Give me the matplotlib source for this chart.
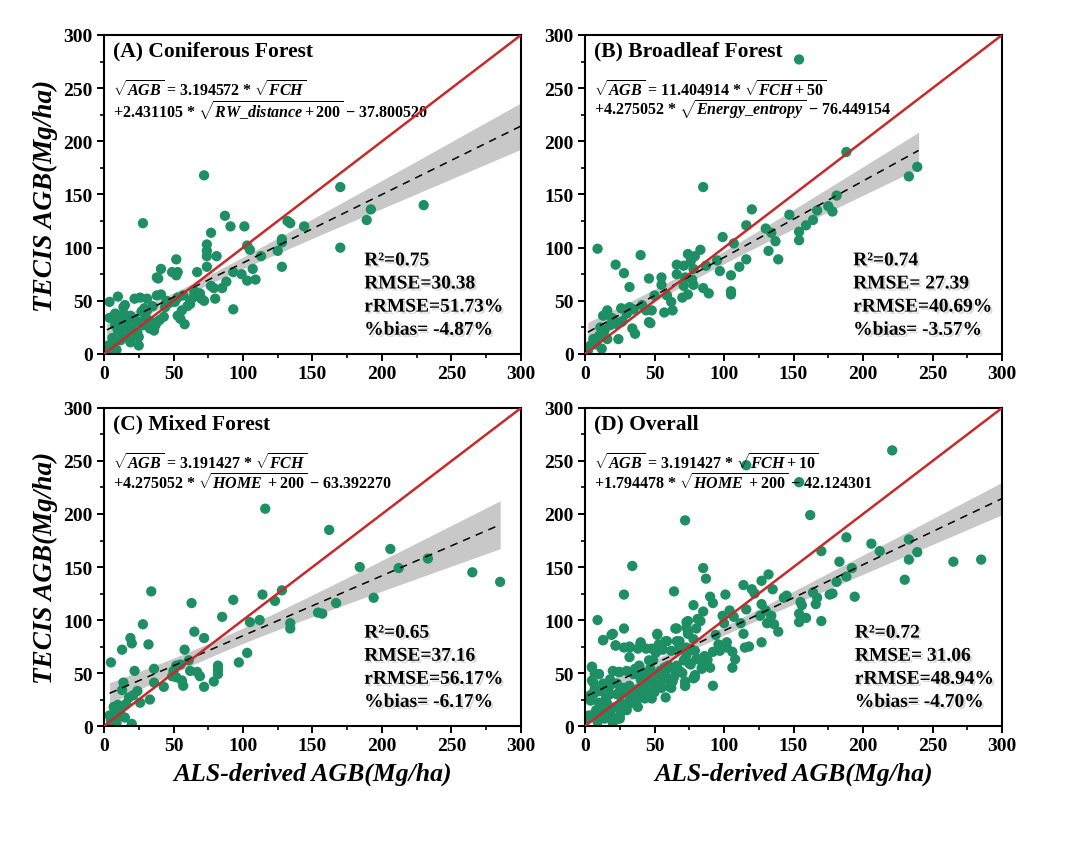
import numpy as np
import matplotlib
matplotlib.use('Agg')
import matplotlib.pyplot as plt
import matplotlib.patheffects as pe
from matplotlib.ticker import MultipleLocator

plt.rcParams['font.family'] = ['Liberation Serif', 'DejaVu Serif']
plt.rcParams['font.weight'] = 'bold'
plt.rcParams['mathtext.fontset'] = 'custom'
plt.rcParams['mathtext.rm'] = 'Liberation Serif:bold'
plt.rcParams['mathtext.it'] = 'Liberation Serif:italic:bold'
plt.rcParams['mathtext.bf'] = 'Liberation Serif:bold'

# (A) coniferous: ALS-derived AGB (x) vs TECIS AGB (y)
con_x = [72, 28, 170, 230, 192, 189, 170, 132, 134, 144, 87, 91, 101, 77, 74, 74, 74, 81, 103, 105,
         128, 128, 125, 128, 113, 107, 109, 103, 99, 93, 88, 85, 79, 77, 74, 67, 52, 49, 53, 52,
         41, 38, 39, 93, 80, 69, 67, 70, 64, 62, 57, 53, 51, 60, 56, 53, 58, 55, 43, 38,
         40, 37, 33, 36, 38, 41, 45, 31, 31, 26, 22, 10, 4, 15, 8, 4, 11, 14, 19, 22,
         16, 12, 8, 20, 25, 21, 15, 12, 7, 3, 5, 25, 19, 9, 2, 13, 28, 25,
         18, 24, 30, 34, 6, 10, 17, 27, 35, 47, 44, 65, 72, 62, 33, 29, 14, 9]
con_y = [168, 123, 157, 140, 136, 126, 100, 125, 123, 120, 130, 120, 120, 114, 103, 97, 92, 92, 102, 98,
         108, 105, 97, 82, 92, 80, 70, 69, 75, 77, 68, 62, 62, 64, 82, 77, 89, 77, 77, 74,
         80, 72, 71, 42, 52, 57, 55, 52, 53, 50, 55, 53, 49, 45, 41, 36, 28, 33, 35, 30,
         32, 27, 24, 22, 55, 56, 50, 41, 52, 53, 52, 54, 49, 46, 38, 34, 35, 38, 36, 33,
         30, 25, 27, 24, 16, 17, 16, 13, 9, 8, 5, 8, 11, 4, 3, 19, 27, 30,
         21, 20, 35, 30, 15, 22, 26, 40, 45, 48, 44, 59, 50, 47, 31, 43, 44, 30]

# (B) broadleaf
brd_x = [154, 188, 239, 233, 85, 181, 175, 178, 167, 164, 159, 154, 154, 147, 120, 116, 130, 134, 137, 139,
         132, 107, 99, 116, 111, 95, 97, 105, 105, 105, 87, 83, 79, 74, 76, 78, 71, 66, 66, 72,
         77, 78, 71, 74, 70, 85, 89, 55, 55, 46, 59, 62, 63, 57, 50, 48, 44, 46, 47, 40,
         28, 22, 9, 32, 26, 32, 35, 41, 34, 36, 30, 26, 24, 16, 13, 20, 23, 18, 14, 10,
         6, 4, 12, 8, 16, 2, 11, 19, 27]
brd_y = [277, 190, 176, 167, 157, 149, 139, 134, 135, 126, 121, 115, 107, 131, 136, 121, 118, 114, 106, 89,
         97, 104, 110, 89, 82, 88, 78, 74, 59, 56, 83, 98, 92, 94, 87, 80, 83, 84, 75, 72,
         70, 65, 64, 56, 53, 62, 57, 72, 65, 71, 55, 49, 41, 39, 55, 41, 41, 30, 29, 93,
         76, 84, 99, 63, 43, 44, 42, 46, 24, 19, 38, 30, 14, 41, 36, 33, 28, 27, 22, 17,
         14, 8, 5, 9, 14, 3, 25, 34, 31]

# (C) mixed
mix_x = [116, 162, 206, 184, 212, 233, 265, 285, 194, 167, 154, 157, 128, 114, 123, 134, 134, 105, 112, 93,
         85, 103, 97, 82, 82, 82, 79, 72, 65, 63, 34, 28, 19, 20, 32, 13, 5, 22, 36, 58,
         61, 62, 67, 69, 72, 57, 56, 52, 55, 50, 49, 52, 43, 36, 33, 26, 24, 21, 18, 14,
         13, 16, 10, 7, 8, 12, 15, 4, 20, 9, 5, 12]
mix_y = [205, 185, 167, 150, 149, 158, 145, 136, 121, 116, 107, 106, 128, 124, 118, 97, 92, 98, 100, 119,
         103, 69, 60, 57, 53, 49, 42, 83, 89, 116, 127, 96, 83, 78, 77, 72, 60, 52, 54, 72,
         62, 52, 51, 47, 37, 38, 43, 57, 58, 52, 47, 46, 37, 41, 25, 22, 33, 29, 27, 41,
         34, 21, 20, 18, 12, 10, 8, 10, 2, 3, 5, 16]

# (D) overall
all_x = [221, 116, 154, 162, 72, 188, 206, 212, 233, 233, 239, 265, 285, 230, 170, 183, 192, 188, 181, 194,
         176, 178, 164, 167, 166, 145, 143, 155, 156, 154, 154, 159, 170, 132, 127, 135, 120, 114, 122, 101,
         90, 92, 127, 116, 104, 99, 107, 100, 112, 126, 130, 134, 131, 136, 133, 139, 127, 114, 94, 85,
         87, 64, 78, 85, 81, 74, 73, 74, 66, 52, 58, 53, 51, 49, 56, 62, 68, 68, 73, 79,
         80, 84, 88, 79, 72, 92, 96, 102, 106, 108, 106, 102, 97, 115, 118, 34, 28, 9, 13, 19,
         22, 28, 28, 32, 32, 40, 38, 44, 46, 39, 46, 50, 54, 59, 64, 68, 60, 55, 58, 50,
         44, 40, 35, 30, 25, 20, 5, 5, 7, 13, 17, 23, 28, 32, 36, 42, 37, 32, 25, 18,
         11, 6, 4, 10, 16, 22, 28, 25, 20, 24, 12, 7, 2, 14, 18, 32, 44, 62, 64, 71,
         66, 75, 5, 10, 6, 4,
         20, 13, 22, 32, 40, 52, 48, 53, 59, 65, 73, 74, 80, 66, 68, 73, 78, 83, 10, 7,
         4, 14, 24, 36, 41, 47, 56, 60, 53, 39, 25, 23, 28, 35, 42, 47, 61, 72, 79, 84,
         88, 82, 90, 72, 78, 15, 25, 19, 13, 30, 38, 48, 3, 9, 18, 27, 33, 45, 57, 63,
         70, 76, 86, 92, 97, 58, 50, 43, 15, 8]
all_y = [260, 246, 230, 199, 194, 178, 172, 165, 176, 157, 164, 155, 157, 138, 165, 155, 149, 141, 136, 122,
         124, 125, 126, 121, 115, 123, 121, 117, 114, 106, 98, 102, 99, 143, 137, 129, 129, 133, 125, 124,
         122, 116, 115, 110, 109, 104, 103, 97, 97, 104, 109, 104, 97, 96, 99, 89, 79, 87, 86, 149,
         139, 127, 114, 108, 101, 99, 93, 87, 92, 87, 80, 77, 69, 62, 72, 71, 80, 74, 67, 71,
         63, 55, 63, 46, 38, 38, 77, 79, 70, 63, 55, 74, 71, 74, 75, 151, 124, 100, 81, 86,
         76, 92, 74, 74, 65, 79, 73, 73, 62, 57, 51, 48, 52, 54, 54, 52, 44, 36, 27, 32,
         40, 44, 49, 52, 51, 52, 55, 43, 49, 40, 36, 40, 36, 38, 32, 29, 24, 27, 29, 30,
         33, 30, 24, 22, 21, 18, 16, 10, 3, 7, 14, 11, 7, 7, 11, 21, 34, 36, 46, 62,
         57, 59, 56, 49, 41, 29,
         87, 81, 76, 75, 78, 86, 73, 75, 80, 92, 98, 89, 92, 80, 75, 74, 82, 99, 49, 35,
         29, 39, 51, 54, 51, 54, 44, 57, 38, 36, 33, 30, 33, 29, 29, 32, 37, 42, 48, 54,
         62, 63, 55, 38, 45, 21, 7, 16, 11, 15, 18, 26, 10, 4, 44, 21, 35, 46, 55, 42,
         50, 58, 66, 70, 73, 47, 40, 26, 26, 15]

titles = ['(A) Coniferous Forest', '(B) Broadleaf Forest', '(C) Mixed Forest', '(D) Overall']
equations = [
    [r'$\sqrt{\mathit{AGB}}$ = 3.194572 $*$ $\sqrt{\mathit{FCH}}$',
     r'+2.431105 $*$ $\sqrt{\mathit{RW\_distance} + 200}$ $-$ 37.800520'],
    [r'$\sqrt{\mathit{AGB}}$ = 11.404914 $*$ $\sqrt{\mathit{FCH} + 50}$',
     r'+4.275052 $*$ $\sqrt{\mathit{Energy\_entropy}}$ $-$ 76.449154'],
    [r'$\sqrt{\mathit{AGB}}$ = 3.191427 $*$ $\sqrt{\mathit{FCH}}$',
     r'+4.275052 $*$ $\sqrt{\mathit{HOME}\ + 200}$ $-$ 63.392270'],
    [r'$\sqrt{\mathit{AGB}}$ = 3.191427 $*$ $\sqrt{\mathit{FCH} + 10}$',
     r'+1.794478 $*$ $\sqrt{\mathit{HOME}\ + 200}$ $-$ 42.124301'],
]
r2 = ['0.75', '0.74', '0.65', '0.72']
rmse = ['=30.38', '= 27.39', '=37.16', '= 31.06']
rrmse = ['51.73%', '40.69%', '56.17%', '48.94%']
bias = ['-4.87%', '-3.57%', '-6.17%', '-4.70%']
fit_end = [300, 240, 285, 300]

xs = [con_x, brd_x, mix_x, all_x]
ys = [con_y, brd_y, mix_y, all_y]

fig = plt.figure(figsize=(10.8, 8.45), dpi=100)
boxes = [[0.0963, 0.5799, 0.3861, 0.3775], [0.5417, 0.5799, 0.3861, 0.3775],
         [0.0963, 0.1396, 0.3861, 0.3764], [0.5417, 0.1396, 0.3861, 0.3764]]
stat_x = [0.624, 0.643, 0.624, 0.647]

green = '#1e8f64'
shadow = [pe.withSimplePatchShadow(offset=(1.5, -1.5), shadow_rgbFace='#aaaaaa', alpha=0.45)]

for i in range(4):
    ax = fig.add_axes(boxes[i])
    x = np.array(xs[i], dtype=float)
    y = np.array(ys[i], dtype=float)

    # linear fit with 95% confidence band
    b, a = np.polyfit(x, y, 1)
    n = len(x)
    resid = y - (a + b * x)
    s = np.sqrt(np.sum(resid ** 2) / (n - 2))
    xx = np.linspace(x.min(), fit_end[i], 200)
    se = s * np.sqrt(1 / n + (xx - x.mean()) ** 2 / np.sum((x - x.mean()) ** 2))
    yy = a + b * xx
    ax.fill_between(xx, yy - 1.97 * se, yy + 1.97 * se, color='#c8c8c8', lw=0, zorder=1)

    ax.scatter(x, y, s=55, color=green, edgecolors='none', zorder=2)
    ax.plot(xx, yy, color='black', ls=(0, (5, 4)), lw=1.1, zorder=3)
    ax.plot([0, 300], [0, 300], color='#c62a2a', lw=1.8, zorder=4)

    ax.set_xlim(0, 300)
    ax.set_ylim(0, 300)
    ax.xaxis.set_major_locator(MultipleLocator(50))
    ax.yaxis.set_major_locator(MultipleLocator(50))
    ax.xaxis.set_minor_locator(MultipleLocator(25))
    ax.yaxis.set_minor_locator(MultipleLocator(25))
    ax.tick_params(which='major', direction='out', length=5, width=1.4, labelsize=14, pad=3)
    ax.tick_params(which='minor', direction='out', length=3, width=1.2)
    for lab in ax.get_xticklabels() + ax.get_yticklabels():
        lab.set_fontweight('bold')
    for sp in ax.spines.values():
        sp.set_linewidth(1.5)

    ax.text(0.022, 0.95, titles[i], transform=ax.transAxes, fontsize=15.5,
            fontweight='bold', va='center', ha='left')
    ax.text(0.022, 0.828, equations[i][0], transform=ax.transAxes, fontsize=11.5,
            va='center', ha='left')
    ax.text(0.022, 0.765, equations[i][1], transform=ax.transAxes, fontsize=11.5,
            va='center', ha='left')

    stats = ['R²=' + r2[i], 'RMSE' + rmse[i], 'rRMSE=' + rrmse[i], '%bias= ' + bias[i]]
    for k, line in enumerate(stats):
        ax.text(stat_x[i], 0.292 - k * 0.0725, line, transform=ax.transAxes, fontsize=14,
                fontweight='bold', va='center', ha='left', path_effects=shadow)

    if i % 2 == 0:
        ax.set_ylabel('TECIS AGB(Mg/ha)', fontsize=19.5, fontweight='bold', style='italic', labelpad=4)
    if i >= 2:
        ax.set_xlabel('ALS-derived AGB(Mg/ha)', fontsize=18.5, fontweight='bold', style='italic', labelpad=5)

fig.savefig('out.png', dpi=100)
